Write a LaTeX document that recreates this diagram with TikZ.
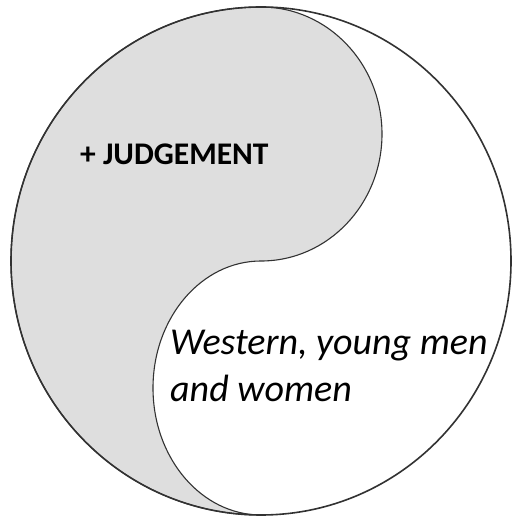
\documentclass[tikz,border=0pt]{standalone}
\usepackage{fontspec}
\setmainfont{Carlito}
\definecolor{lobegray}{RGB}{222,222,222}
\definecolor{edge}{RGB}{50,50,50}
\begin{document}
\begin{tikzpicture}[x=1pt,y=1pt,
  outerline/.style={draw=edge,line width=1.6pt},
  lobe/.style={fill=lobegray,draw=edge,line width=1.1pt},
  judgetext/.style={font=\fontsize{31.5}{38}\selectfont\bfseries,inner sep=0pt,anchor=base west,text=black},
  whitetext/.style={font=\fontsize{38}{45}\selectfont\itshape,inner sep=0pt,anchor=base west,text=black}]
\useasboundingbox (0,0) rectangle (513,519);
\fill[white] (0,0) rectangle (513,519);
% outer circle
\coordinate (c) at (261,258);
\fill[white] (c) ellipse[x radius=250,y radius=254];
% gray lobe
\path[lobe] (261,512)
  arc[start angle=90,end angle=-90,x radius=121,y radius=127]
  arc[start angle=90,end angle=270,x radius=108,y radius=127]
  arc[start angle=270,end angle=90,x radius=250,y radius=254]
  -- cycle;
\draw[outerline] (c) ellipse[x radius=250,y radius=254];
\node[judgetext] (judge) at (80,354) {+ JUDGEMENT};
\node[whitetext] (w1) at (170,164) {Western, young men};
\node[whitetext] (w2) at (170,117) {and women};
\end{tikzpicture}
\end{document}
